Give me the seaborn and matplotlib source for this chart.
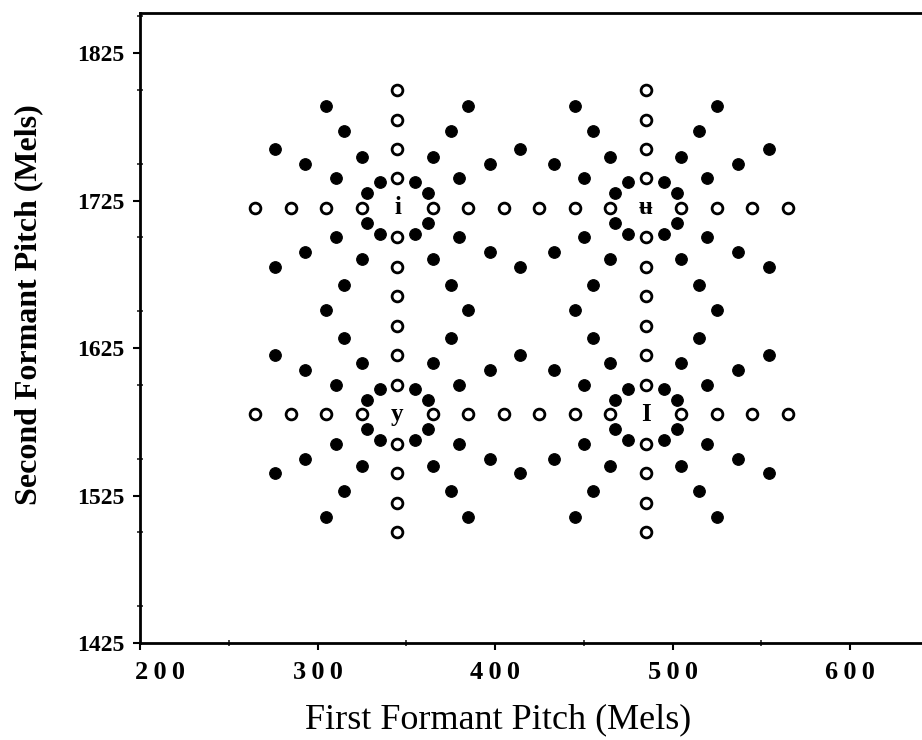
import numpy as np
import pandas as pd
import matplotlib
matplotlib.use("Agg")
import matplotlib.pyplot as plt
import matplotlib.transforms as mtransforms
from matplotlib.ticker import MultipleLocator, FuncFormatter
import seaborn as sns

# Four prototype vowels and the stimulus grid around each (values in mels)
VOWELS = ["i", "ʉ", "y", "I"]
CENTER_F1 = [345, 485, 345, 485]
CENTER_F2 = [1720, 1720, 1580, 1580]
RING_RADII = [20, 40, 60, 80]
DIRECTIONS_DEG = [0, 30, 60, 90, 120, 150, 180, 210, 240, 270, 300, 330]
OPEN_DIRECTIONS = [0, 90, 180, 270]  # along the F1/F2 axes -> open circles

X_TICKS = [200, 300, 400, 500, 600]
Y_TICKS = [1425, 1525, 1625, 1725, 1825]

rows = []
for c1, c2 in zip(CENTER_F1, CENTER_F2):
    for d in DIRECTIONS_DEG:
        for r in RING_RADII:
            f1 = c1 + r * np.cos(np.radians(d))
            f2 = c2 + r * np.sin(np.radians(d))
            # neighbouring grids share their outer stimuli -> keep one copy
            if any(abs(f1 - p["F1"]) < 3 and abs(f2 - p["F2"]) < 3 for p in rows):
                continue
            rows.append({"F1": f1, "F2": f2,
                         "kind": "open" if d in OPEN_DIRECTIONS else "filled"})
df = pd.DataFrame(rows)

sns.set_style("ticks")
plt.rcParams["font.family"] = ["Liberation Serif", "DejaVu Serif"]

fig = plt.figure(figsize=(9.22, 7.4), dpi=100)
ax = fig.add_axes([0.152, 0.131, 0.848, 0.851])

sns.scatterplot(data=df[df["kind"] == "filled"], x="F1", y="F2", ax=ax,
                color="black", edgecolor="black", s=70, linewidth=0.8, zorder=3)
sns.scatterplot(data=df[df["kind"] == "open"], x="F1", y="F2", ax=ax,
                color="white", edgecolor="black", s=60, linewidth=2.0, zorder=3)

for v, c1, c2 in zip(VOWELS, CENTER_F1, CENTER_F2):
    ax.text(c1, c2, v, ha="center", va="center", fontsize=18,
            fontweight="bold", color="black")

ax.set_xlim(200, 640.6)
ax.set_ylim(1425, 1852)
ax.set_xticks(X_TICKS)
ax.set_yticks(Y_TICKS)
ax.xaxis.set_major_formatter(FuncFormatter(lambda v, p: "\u2009".join(str(int(v)))))
ax.xaxis.set_minor_locator(MultipleLocator(50))
ax.yaxis.set_minor_locator(MultipleLocator(50))
ax.tick_params(axis="both", which="major", direction="out", length=5, width=1.5,
               colors="black")
ax.tick_params(axis="x", which="major", labelsize=19, pad=8)
ax.tick_params(axis="y", which="major", labelsize=17, pad=6)
ax.tick_params(axis="both", which="minor", direction="inout", length=5, width=1.2)
for lbl in ax.get_xticklabels() + ax.get_yticklabels():
    lbl.set_fontweight("bold")

# the "200" label sits a little right of its tick in the original
first = ax.get_xticklabels()[0]
first.set_transform(first.get_transform() +
                    mtransforms.ScaledTranslation(0.2, 0, fig.dpi_scale_trans))

for side in ["left", "bottom", "top"]:
    ax.spines[side].set_linewidth(2.0)
    ax.spines[side].set_color("black")
ax.spines["right"].set_visible(False)

ax.set_xlabel("First Formant Pitch (Mels)", fontsize=26, color="black")
ax.set_ylabel("Second Formant Pitch (Mels)", fontsize=23, fontweight="bold",
              color="black")
ax.xaxis.set_label_coords(0.458, -0.095)
ax.yaxis.set_label_coords(-0.124, 0.537)

fig.savefig("out.png", dpi=100, facecolor="white")
